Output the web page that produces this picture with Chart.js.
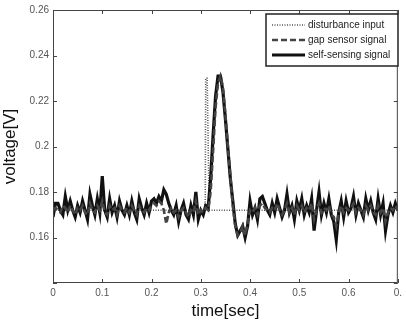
<!DOCTYPE html>
<html>
<head>
<meta charset="utf-8">
<script src="https://cdn.jsdelivr.net/npm/chart.js@4/dist/chart.umd.min.js"></script>
<style>
  html, body { margin: 0; padding: 0; background: #fff; }
  #wrap { width: 406px; height: 322px; }
</style>
</head>
<body>
<div id="wrap"><canvas id="plot"></canvas></div>
<script>
// sampled every 5 ms, 0 .. 0.7 s
const samplePeriod = 0.005;

const selfSensing = [
  0.169,0.175,0.175,0.172,0.170,0.178,0.172,0.176,0.172,0.169,0.174,0.171,0.176,0.172,0.168,0.179,0.174,0.170,0.177,0.171,
  0.187,0.172,0.169,0.177,0.171,0.174,0.169,0.176,0.172,0.170,0.174,0.170,0.176,0.171,0.168,0.177,0.173,0.170,0.175,0.171,
  0.176,0.177,0.175,0.178,0.176,0.181,0.179,0.175,0.172,0.170,0.174,0.167,0.172,0.175,0.170,0.168,0.174,0.170,0.180,0.168,
  0.172,0.170,0.174,0.173,0.186,0.205,0.222,0.231,0.231,0.224,0.212,0.199,0.186,0.176,0.166,0.161,0.163,0.165,0.160,0.165,
  0.176,0.170,0.173,0.168,0.177,0.178,0.175,0.172,0.170,0.175,0.171,0.177,0.173,0.169,0.172,0.179,0.171,0.174,0.168,0.176,
  0.172,0.177,0.170,0.174,0.171,0.177,0.163,0.172,0.180,0.170,0.175,0.171,0.177,0.170,0.167,0.159,0.171,0.176,0.169,0.176,
  0.171,0.173,0.178,0.170,0.175,0.172,0.169,0.177,0.172,0.176,0.171,0.168,0.177,0.170,0.175,0.163,0.170,0.174,0.171,0.175,0.172
];

const gapSensor = [
  0.172,0.173,0.172,0.171,0.174,0.173,0.171,0.174,0.172,0.170,0.173,0.172,0.174,0.171,0.170,0.175,0.172,0.171,0.174,0.172,
  0.176,0.171,0.170,0.174,0.172,0.173,0.170,0.174,0.172,0.171,0.173,0.171,0.174,0.172,0.170,0.174,0.172,0.171,0.173,0.172,
  0.174,0.175,0.174,0.176,0.175,0.172,0.166,0.171,0.173,0.171,0.172,0.169,0.172,0.173,0.171,0.169,0.172,0.171,0.176,0.170,
  0.172,0.171,0.173,0.172,0.180,0.198,0.217,0.228,0.231,0.226,0.214,0.200,0.187,0.174,0.165,0.161,0.162,0.165,0.161,0.166,
  0.172,0.171,0.173,0.170,0.174,0.175,0.173,0.172,0.171,0.173,0.172,0.175,0.172,0.170,0.172,0.175,0.171,0.173,0.170,0.174,
  0.172,0.174,0.171,0.173,0.172,0.175,0.168,0.172,0.175,0.171,0.173,0.172,0.174,0.170,0.169,0.165,0.171,0.174,0.171,0.173,
  0.172,0.173,0.175,0.171,0.173,0.172,0.170,0.174,0.172,0.174,0.171,0.170,0.174,0.171,0.173,0.167,0.171,0.173,0.172,0.174,0.172
];

const disturbanceTimes = [0, 0.309, 0.310, 0.313, 0.317, 0.7];
const disturbanceValues = [0.172, 0.172, 0.230, 0.230, 0.172, 0.172];

const xTicks = [0, 0.1, 0.2, 0.3, 0.4, 0.5, 0.6, 0.7];
const yTicks = [0.14, 0.16, 0.18, 0.2, 0.22, 0.24, 0.26];

const legendLabels = ["disturbance input", "gap sensor signal", "self-sensing signal"];

const toPoints = vals => vals.map((v, i) => ({ x: i * samplePeriod, y: v }));

const frameAndLegend = {
  id: "frameAndLegend",
  afterDatasetsDraw(chart) {
    const { ctx, chartArea: a, scales } = chart;
    ctx.save();
    ctx.strokeStyle = "#444";
    ctx.lineWidth = 1;
    ctx.strokeRect(a.left + 0.5, a.top + 0.5, a.right - a.left - 1, a.bottom - a.top - 1);
    // inward ticks, all four sides
    const tl = 4;
    ctx.beginPath();
    xTicks.forEach(t => {
      const px = Math.round(scales.x.getPixelForValue(t)) + 0.5;
      ctx.moveTo(px, a.bottom); ctx.lineTo(px, a.bottom - tl);
      ctx.moveTo(px, a.top); ctx.lineTo(px, a.top + tl);
    });
    yTicks.forEach(t => {
      const py = Math.round(scales.y.getPixelForValue(t)) + 0.5;
      ctx.moveTo(a.left, py); ctx.lineTo(a.left + tl, py);
      ctx.moveTo(a.right, py); ctx.lineTo(a.right - tl, py);
    });
    ctx.stroke();

    // legend box
    const bx = 266, by = 14, bw = 132, bh = 52;
    ctx.fillStyle = "#fff";
    ctx.fillRect(bx, by, bw, bh);
    ctx.strokeStyle = "#222";
    ctx.lineWidth = 1.5;
    ctx.strokeRect(bx, by, bw, bh);
    const ds = chart.data.datasets;
    ctx.font = "10px 'Liberation Sans', Arial, sans-serif";
    ctx.textBaseline = "middle";
    ctx.textAlign = "left";
    legendLabels.forEach((lab, i) => {
      const y = by + 11 + i * 15;
      const d = ds[i];
      ctx.strokeStyle = d.borderColor;
      ctx.lineWidth = d.borderWidth;
      ctx.setLineDash(d.borderDash || []);
      ctx.beginPath();
      ctx.moveTo(272, y); ctx.lineTo(305, y);
      ctx.stroke();
      ctx.setLineDash([]);
      ctx.fillStyle = "#222";
      ctx.fillText(lab, 308, y);
    });
    ctx.restore();
  }
};

new Chart(document.getElementById("plot"), {
  type: "scatter",
  data: {
    datasets: [
      {
        label: legendLabels[0],
        data: disturbanceTimes.map((t, i) => ({ x: t, y: disturbanceValues[i] })),
        showLine: true,
        borderColor: "#555",
        borderWidth: 1.6,
        borderDash: [1, 1.5],
        pointRadius: 0,
        order: 3
      },
      {
        label: legendLabels[1],
        data: toPoints(gapSensor),
        showLine: true,
        borderColor: "#444",
        borderWidth: 2.6,
        borderDash: [6, 3],
        pointRadius: 0,
        order: 1
      },
      {
        label: legendLabels[2],
        data: toPoints(selfSensing),
        showLine: true,
        borderColor: "#111",
        borderWidth: 3.2,
        pointRadius: 0,
        order: 2
      }
    ]
  },
  options: {
    responsive: true,
    maintainAspectRatio: false,
    animation: false,
    layout: { padding: { top: 10, right: 3, left: 0, bottom: 0 } },
    plugins: {
      legend: { display: false },
      tooltip: { enabled: false }
    },
    scales: {
      x: {
        type: "linear",
        min: 0,
        max: 0.7,
        afterBuildTicks: s => { s.ticks = xTicks.map(v => ({ value: v })); },
        afterFit: s => { s.height = 39; },
        grid: { display: false, drawTicks: false },
        border: { display: false },
        ticks: {
          color: "#555",
          font: { family: "'Liberation Sans', Arial, sans-serif", size: 10 },
          padding: 4,
          maxRotation: 0,
          autoSkip: false,
          callback: v => (v === 0.7 ? "0." : String(v))
        },
        title: {
          display: true,
          text: "time[sec]",
          color: "#111",
          font: { family: "'Liberation Sans', Arial, sans-serif", size: 17 },
          padding: { top: 0, bottom: 0 }
        }
      },
      y: {
        min: 0.14,
        max: 0.26,
        afterBuildTicks: s => { s.ticks = yTicks.map(v => ({ value: v })); },
        afterFit: s => { s.width = 53; },
        grid: { display: false, drawTicks: false },
        border: { display: false },
        ticks: {
          color: "#555",
          font: { family: "'Liberation Sans', Arial, sans-serif", size: 10 },
          padding: 4,
          autoSkip: false,
          callback: v => (v === 0.14 ? "" : String(Math.round(v * 100) / 100))
        },
        title: {
          display: true,
          text: "voltage[V]",
          color: "#111",
          font: { family: "'Liberation Sans', Arial, sans-serif", size: 17 },
          padding: { top: 0, bottom: 4 }
        }
      }
    }
  },
  plugins: [frameAndLegend]
});
</script>
</body>
</html>
